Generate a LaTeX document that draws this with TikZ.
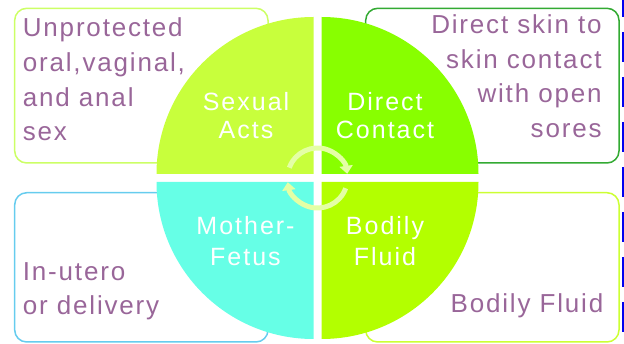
\documentclass[tikz,border=0pt]{standalone}
\usepackage{fontspec}
\setmainfont{Liberation Sans}
\newfontfamily\boxfont[LetterSpace=7]{Liberation Sans}
\newfontfamily\labfont[LetterSpace=8]{Liberation Sans}
\usetikzlibrary{arrows.meta}
\definecolor{qtl}{RGB}{200,255,60}
\definecolor{qtr}{RGB}{136,255,0}
\definecolor{qbl}{RGB}{102,255,230}
\definecolor{qbr}{RGB}{179,255,0}
\definecolor{btl}{RGB}{204,255,102}
\definecolor{btr}{RGB}{51,170,51}
\definecolor{bbl}{RGB}{102,204,238}
\definecolor{bbr}{RGB}{204,255,51}
\definecolor{txt}{RGB}{153,102,153}
\definecolor{arr}{RGB}{228,255,165}
\definecolor{edge}{RGB}{0,0,240}
\tikzset{
  infobox/.style={draw, line width=1.5pt, rounded corners=12pt},
  boxtext/.style={inner sep=0pt, text=txt, font=\boxfont\fontsize{26}{34.7}\selectfont},
  toplab/.style={inner sep=0pt, text=white, align=center, anchor=north, font=\labfont\fontsize{25}{28.5}\selectfont},
  botlab/.style={inner sep=0pt, text=white, align=center, anchor=north, font=\labfont\fontsize{25}{31}\selectfont},
  cyc/.style={arr, line width=5pt, -{Triangle[width=13pt,length=8pt]}}
}
\begin{document}
\begin{tikzpicture}[x=1pt,y=-1pt]
\useasboundingbox (0,0) rectangle (624,344);
% boxes
\draw[infobox, btl] (14.7,8.3) rectangle (268,163);
\draw[infobox, btr] (365.7,8.3) rectangle (619,163);
\draw[infobox, bbl] (14.7,192.7) rectangle (268,342);
\draw[infobox, bbr] (365.7,192.7) rectangle (619,342);
% quadrants
\fill[qtl] (313.5,174) -- (156.5,174) arc[start angle=180, end angle=270, radius=157] -- cycle;
\fill[qtr] (321.5,174) -- (321.5,17) arc[start angle=270, end angle=360, radius=157] -- cycle;
\fill[qbl] (313.5,182) -- (156.5,182) arc[start angle=180, end angle=90, radius=157] -- cycle;
\fill[qbr] (321.5,182) -- (478.5,182) arc[start angle=0, end angle=90, radius=157] -- cycle;
% cycle arrows
\coordinate (c) at (317.5,178);
\draw[cyc] ([shift={(200:30)}]c) arc[start angle=200, end angle=352, radius=30];
\draw[cyc] ([shift={(20:30)}]c) arc[start angle=20, end angle=172, radius=30];
% quadrant labels
\node[toplab] (sa) at (246,90) {\rule{0pt}{20pt}Sexual\\Acts};
\node[toplab] (dc) at (385,90) {\rule{0pt}{20pt}Direct\\Contact};
\node[botlab] (mf) at (245.5,214.5) {\rule{0pt}{20pt}Mother-\\Fetus};
\node[botlab] (bf) at (385,214.5) {\rule{0pt}{20pt}Bodily\\Fluid};
% box texts
\node[boxtext, anchor=north west, align=left] (t1) at (22.7,16.7) {\rule{0pt}{20pt}Unprotected\\oral,vaginal,\\and anal\\sex};
\node[boxtext, anchor=north east, align=right] (t2) at (601.8,13.3) {\rule{0pt}{20pt}Direct skin to\\skin contact\\with open\\sores};
\node[boxtext, anchor=north west, align=left] (t3) at (22.7,260) {\rule{0pt}{20pt}In-utero\\or delivery};
\node[boxtext, anchor=north east, align=right] (t4) at (603.5,292.7) {\rule{0pt}{20pt}Bodily Fluid};
% right edge dashes
\draw[edge, line width=2pt, dash pattern=on 30pt off 15pt] (623,-13) -- (623,344);
\end{tikzpicture}
\end{document}
